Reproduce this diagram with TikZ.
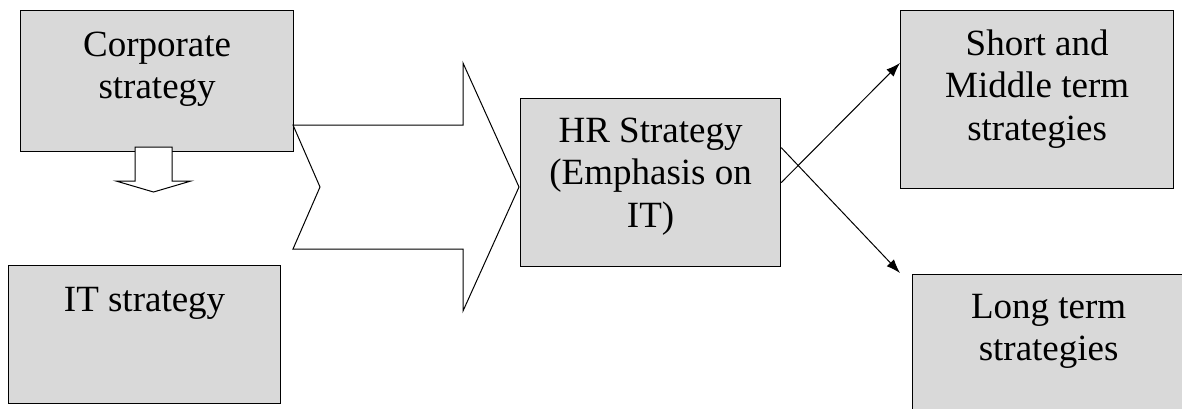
\documentclass[tikz,border=0pt]{standalone}
\usepackage{fontspec}
\setmainfont{Liberation Serif}
\usetikzlibrary{arrows.meta,calc}
\definecolor{boxfill}{RGB}{217,217,217}
\begin{document}
\begin{tikzpicture}[x=1pt,y=-1pt,
  box/.style={draw=black,fill=boxfill,line width=1.2pt,anchor=north west,inner sep=0pt},
  txt/.style={inner sep=0pt,anchor=base,font=\fontsize{37}{42.5}\selectfont},
  shapeline/.style={draw=black,fill=white,line width=1pt,line join=miter},
  conn/.style={line width=1pt,-{Latex[length=14pt,width=10pt]}}]
\useasboundingbox (0,0) rectangle (1182,408);
\clip (0,0) rectangle (1182,408);
% boxes
\node[box,minimum width=273pt,minimum height=141pt] (corp) at (20,10) {};
\node[box,minimum width=272pt,minimum height=138pt] (it) at (8,265) {};
% big arrow
\draw[shapeline] (293,125) -- (463,125) -- (463,63) -- (519,187) -- (463,311) -- (463,249) -- (293,249) -- (320,187) -- cycle;
\node[box,minimum width=260pt,minimum height=168pt] (hr) at (520,98) {};
\node[box,minimum width=273pt,minimum height=178pt] (short) at (900,10) {};
\node[box,minimum width=272pt,minimum height=140pt] (long) at (912,274) {};
% down arrow
\draw[shapeline] (135,147) -- (172,147) -- (172,181) -- (191,181) -- (153.5,192) -- (116,181) -- (135,181) -- cycle;
% texts
\node[txt] (corpt) at ($(corp.north)+(0,46)$) {\parbox[t]{270pt}{\centering Corporate\\strategy}};
\node[txt] (itt) at ($(it.north)+(0,46)$) {\parbox[t]{270pt}{\centering IT strategy}};
\node[txt] (hrt) at ($(hr.north)+(0,44)$) {\parbox[t]{258pt}{\centering HR Strategy\\(Emphasis on\\IT)}};
\node[txt] (shortt) at ($(short.north)+(0,45)$) {\parbox[t]{270pt}{\centering Short and\\Middle term\\strategies}};
\node[txt] (longt) at ($(long.north)+(0,44)$) {\parbox[t]{270pt}{\centering Long term\\strategies}};
% connectors
\draw[conn] (hr.east) -- ($(short.north west)+(0,53)$);
\draw[conn] ($(hr.east)+(0,-35)$) -- ($(long.north west)+(-12,-1)$);
\end{tikzpicture}
\end{document}
